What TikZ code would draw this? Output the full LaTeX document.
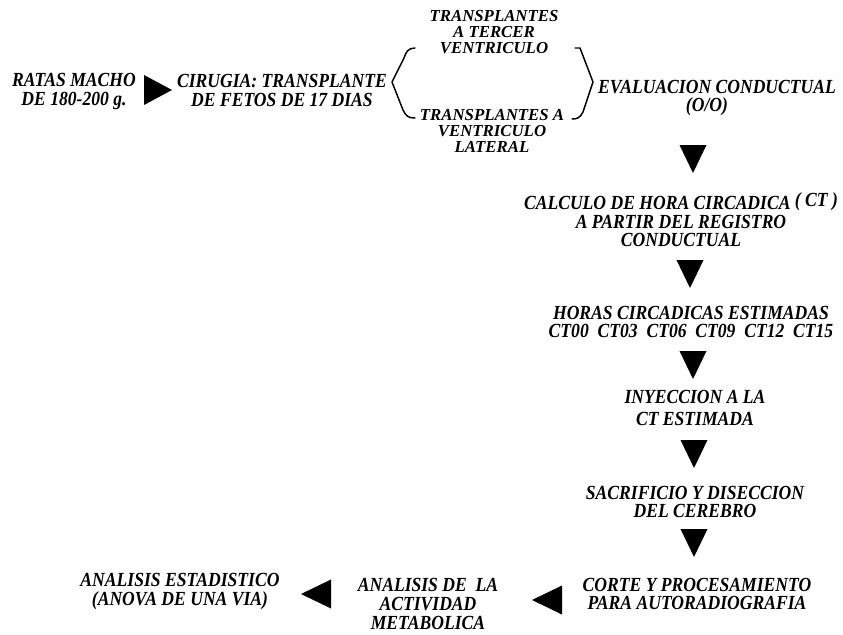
\documentclass[tikz,border=0pt]{standalone}
\usepackage{fontspec}
\setmainfont{Liberation Serif}[FakeStretch=0.88]
\newfontfamily\brfont{Liberation Serif}
\usetikzlibrary{calc}
\tikzset{
  lbl/.style={font=\fontsize{15}{#1}\selectfont\bfseries\itshape, align=center, inner sep=0pt},
  lbs/.style={font=\brfont\fontsize{12.6}{#1}\selectfont\bfseries\itshape, align=center, inner sep=0pt},
  tri/.style={fill=black},
  brk/.style={draw=black, line width=1.1pt, line join=round, line cap=round},
}
\begin{document}
\begin{tikzpicture}[x=0.75pt,y=-0.75pt]
\useasboundingbox (0,0) rectangle (843,635);
\fill[white] (0,0) rectangle (843,635);

% text nodes
\node[lbl=14.25] (ratas) at (74,92) {RATAS MACHO\\DE 180-200 g.};
\node[lbl=14.25] (cirugia) at (282,90) {CIRUGIA: TRANSPLANTE\\DE FETOS DE 17 DIAS};
\node[lbs=12] (tercer) at (494,32) {TRANSPLANTES\\A TERCER\\VENTRICULO};
\node[lbs=12] (lateral) at (492,131) {TRANSPLANTES A\\VENTRICULO\\LATERAL};
\node[lbl=14] (eval) at (717,98) {EVALUACION CONDUCTUAL\\(O/O)\hspace*{15pt}};
\node[lbl=14] (calculo) at (681,220) {CALCULO DE HORA CIRCADICA \raisebox{2pt}{( CT )}\\A PARTIR DEL REGISTRO\\CONDUCTUAL};
\node[lbl=14] (horas) at (691,322) {HORAS CIRCADICAS ESTIMADAS\\CT00\ \ CT03\ \ CT06\ \ CT09\ \ CT12\ \ CT15};
\node[lbl=17] (inyeccion) at (695,408) {INYECCION A LA\\CT ESTIMADA};
\node[lbl=14] (sacrificio) at (695,502) {SACRIFICIO Y DISECCION\\DEL CEREBRO};
\node[lbl=14] (corte) at (697,594) {CORTE Y PROCESAMIENTO\\PARA AUTORADIOGRAFIA};
\node[lbl=14] (metab) at (428,604) {ANALISIS DE\ \ LA\\ACTIVIDAD\\METABOLICA};
\node[lbl=14.25] (estad) at (180,592) {ANALISIS ESTADISTICO\\(ANOVA DE UNA VIA)};

% brackets
\draw[brk] (415,48) .. controls (408,48) and (406,52) .. (404,58) -- (392,82) -- (403,110) .. controls (406,116) and (408,118) .. (415,118);
\draw[brk] (575,48) -- (580,48) -- (593,82) -- (583,112) .. controls (580,118) and (577,119) .. (572,119);

% triangle arrows
\coordinate (r1) at (158,90);
\fill[tri] (r1) ++(-14,-15) -- ++(28,15) -- ++(-28,15) -- cycle;
\coordinate (d1) at (693,159);
\coordinate (d2) at (690,274);
\coordinate (d3) at (693,365);
\coordinate (d4) at (694,454);
\coordinate (d5) at (694,543);
\foreach \c in {d1,d2,d3,d4,d5}
  \fill[tri] (\c) ++(-13.5,-14) -- ++(27,0) -- ++(-13.5,28) -- cycle;
\coordinate (l1) at (547,600);
\coordinate (l2) at (316,594);
\foreach \c in {l1,l2}
  \fill[tri] (\c) ++(15,-14.5) -- ++(0,29) -- ++(-30,-14.5) -- cycle;
\end{tikzpicture}
\end{document}
